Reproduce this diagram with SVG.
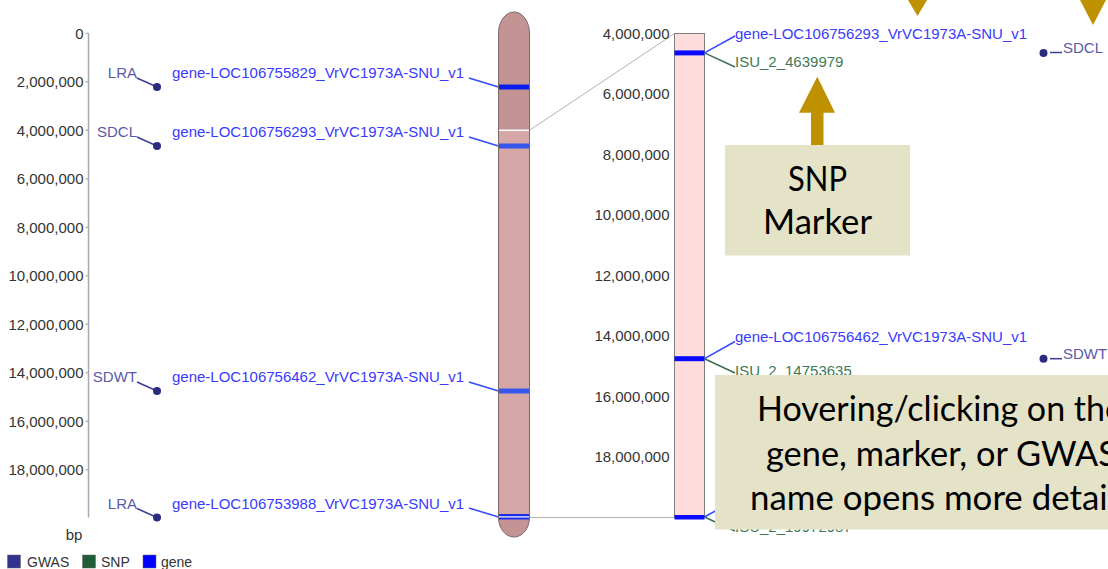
<svg xmlns="http://www.w3.org/2000/svg" width="1108" height="569" viewBox="0 0 1108 569">
<style>
.ax{font-family:"Liberation Sans",Arial,sans-serif;font-size:15px;fill:#333}
.gl{font-family:"Liberation Sans",Arial,sans-serif;font-size:15px;fill:#3a3aff}
.sl{font-family:"Liberation Sans",Arial,sans-serif;font-size:15px;fill:#3f7a58}
.wl{font-family:"Liberation Sans",Arial,sans-serif;font-size:15px;fill:#5a5aaa}
.lg{font-family:"Liberation Sans",Arial,sans-serif;font-size:14px;fill:#333}
.gline{stroke:#3348ff;stroke-width:1.5;fill:none}
.sline{stroke:#3a7050;stroke-width:1.5;fill:none}
.wline{stroke:#3d3d90;stroke-width:1.5;fill:none}
.dot{fill:#2c2c7e}
.co{font-family:Lato,"Open Sans",sans-serif;font-size:34px;fill:#000}
.box{fill:#e4e3c7}
.gold{fill:#bf9000}
</style>

<!-- left axis -->
<g id="left-axis">
<line x1="88.5" y1="33" x2="88.5" y2="517.5" stroke="#aaa" stroke-width="1.5"/>
<g stroke="#aaa" stroke-width="1.2">
<line x1="85.5" y1="33.3" x2="88.5" y2="33.3"/>
<line x1="85.5" y1="81.8" x2="88.5" y2="81.8"/>
<line x1="85.5" y1="130.3" x2="88.5" y2="130.3"/>
<line x1="85.5" y1="178.8" x2="88.5" y2="178.8"/>
<line x1="85.5" y1="227.3" x2="88.5" y2="227.3"/>
<line x1="85.5" y1="275.8" x2="88.5" y2="275.8"/>
<line x1="85.5" y1="324.3" x2="88.5" y2="324.3"/>
<line x1="85.5" y1="372.8" x2="88.5" y2="372.8"/>
<line x1="85.5" y1="421.3" x2="88.5" y2="421.3"/>
<line x1="85.5" y1="469.8" x2="88.5" y2="469.8"/>
</g>
<g class="ax" text-anchor="end">
<text x="83.5" y="38.7">0</text>
<text x="83.5" y="87.2">2,000,000</text>
<text x="83.5" y="135.7">4,000,000</text>
<text x="83.5" y="184.2">6,000,000</text>
<text x="83.5" y="232.7">8,000,000</text>
<text x="83.5" y="281.2">10,000,000</text>
<text x="83.5" y="329.7">12,000,000</text>
<text x="83.5" y="378.2">14,000,000</text>
<text x="83.5" y="426.7">16,000,000</text>
<text x="83.5" y="475.2">18,000,000</text>
</g>
<text class="ax" x="74" y="539.5" text-anchor="middle">bp</text>
</g>

<!-- connectors -->
<g id="connectors">
<line x1="529.5" y1="130.3" x2="674.5" y2="33.5" stroke="#b4b4b4" stroke-width="1"/>
<line x1="529.5" y1="517.5" x2="674.5" y2="517.5" stroke="#b4b4b4" stroke-width="1"/>
<polyline class="wline" points="137,78 157,87"/>
<polyline class="wline" points="137,137 157,146"/>
<polyline class="wline" points="137,382 157,391"/>
<polyline class="wline" points="137,508.5 157,517.5"/>
<polyline class="gline" points="469,78 498.5,87"/>
<polyline class="gline" points="469,137 498.5,146"/>
<polyline class="gline" points="469,382 498.5,391"/>
<polyline class="gline" points="469,508 498.5,517"/>
<polyline class="gline" points="704.5,52.9 735,36"/>
<polyline class="sline" points="704.5,52.9 735,67"/>
<polyline class="gline" points="704.5,358.7 735,341.5"/>
<polyline class="sline" points="704.5,358.7 735,373"/>
<polyline class="gline" points="704.5,517 735,500"/>
<polyline class="sline" points="704.5,517 735,531"/>
<line class="wline" x1="1050" y1="52.5" x2="1062" y2="52.5"/>
<line class="wline" x1="1050" y1="358.7" x2="1062" y2="358.7"/>
</g>

<!-- left chromosome -->
<g id="chromosome">
<path d="M498.5,33.3 A15.5,21.3 0 0 1 529.5,33.3 L529.5,517.5 A15.5,19.5 0 0 1 498.5,517.5 Z" fill="#c49393"/>
<rect x="498.5" y="130.3" width="31" height="387.2" fill="#d4a6a6"/>
<rect x="498.5" y="84.5" width="31" height="5" fill="#0a1ef2"/>
<rect x="498.5" y="143.5" width="31" height="5" fill="#3656ee"/>
<rect x="498.5" y="388.5" width="31" height="5" fill="#3656ee"/>
<rect x="498.5" y="514" width="31" height="5.5" fill="#1a2ef0"/>
<line x1="498.5" y1="130.3" x2="529.5" y2="130.3" stroke="#fff" stroke-width="1.5"/>
<line x1="498.5" y1="516.9" x2="529.5" y2="516.9" stroke="#fff" stroke-width="1.2"/>
<path d="M498.5,33.3 A15.5,21.3 0 0 1 529.5,33.3 L529.5,517.5 A15.5,19.5 0 0 1 498.5,517.5 Z" fill="none" stroke="#7d6868" stroke-width="1"/>
</g>

<!-- left GWAS markers -->
<g id="gwas-left">
<circle class="dot" cx="157" cy="87" r="4"/>
<circle class="dot" cx="157" cy="146" r="4"/>
<circle class="dot" cx="157" cy="391" r="4"/>
<circle class="dot" cx="157" cy="517.5" r="4"/>
<g class="wl" text-anchor="end">
<text x="137" y="78">LRA</text>
<text x="137" y="137">SDCL</text>
<text x="137" y="382">SDWT</text>
<text x="137" y="508.5">LRA</text>
</g>
</g>

<!-- left gene labels -->
<g id="genes-left" class="gl">
<text x="172" y="78">gene-LOC106755829_VrVC1973A-SNU_v1</text>
<text x="172" y="137">gene-LOC106756293_VrVC1973A-SNU_v1</text>
<text x="172" y="382">gene-LOC106756462_VrVC1973A-SNU_v1</text>
<text x="172" y="508.5">gene-LOC106753988_VrVC1973A-SNU_v1</text>
</g>

<!-- right zoom panel -->
<g id="zoom-panel">
<rect x="674.5" y="33.5" width="30" height="484" fill="#ffdcdc" stroke="#7f7f7f" stroke-width="1"/>
<rect x="674.5" y="50.4" width="30" height="5" fill="#0a0aff"/>
<rect x="674.5" y="356.2" width="30" height="5" fill="#0a0aff"/>
<rect x="674.5" y="515" width="30" height="4.5" fill="#0a0aff"/>
<g class="ax" text-anchor="end">
<text x="669.5" y="38.9">4,000,000</text>
<text x="669.5" y="99.4">6,000,000</text>
<text x="669.5" y="159.9">8,000,000</text>
<text x="669.5" y="220.4">10,000,000</text>
<text x="669.5" y="280.9">12,000,000</text>
<text x="669.5" y="341.4">14,000,000</text>
<text x="669.5" y="401.9">16,000,000</text>
<text x="669.5" y="462.4">18,000,000</text>
</g>
</g>

<g id="labels-right">
<text class="gl" x="735" y="38.5">gene-LOC106756293_VrVC1973A-SNU_v1</text>
<text class="sl" x="735" y="67">ISU_2_4639979</text>
<text class="gl" x="735" y="342">gene-LOC106756462_VrVC1973A-SNU_v1</text>
<text class="sl" x="735" y="376">ISU_2_14753635</text>
<text class="sl" x="735" y="532">ISU_2_19972987</text>
</g>

<g id="gwas-right">
<circle class="dot" cx="1043.5" cy="52.9" r="4"/>
<text class="wl" x="1063" y="53">SDCL</text>
<circle class="dot" cx="1043.5" cy="358.7" r="4"/>
<text class="wl" x="1063" y="358.7">SDWT</text>
</g>

<!-- legend -->
<g id="legend">
<rect x="7.5" y="555" width="13" height="13" fill="#33338f" stroke="#666" stroke-width="0.5"/>
<text class="lg" x="27" y="566.5">GWAS</text>
<rect x="82.5" y="555" width="13" height="13" fill="#1f5c38" stroke="#666" stroke-width="0.5"/>
<text class="lg" x="101" y="566.5">SNP</text>
<rect x="143" y="555" width="13" height="13" fill="#0000ff" stroke="#666" stroke-width="0.5"/>
<text class="lg" x="161" y="566.5">gene</text>
</g>

<!-- annotations -->
<g id="top-arrows">
<polygon class="gold" points="908,0 927,0 917.5,16"/>
<polygon class="gold" points="1080,0 1106,0 1093,25"/>
</g>

<g id="snp-callout">
<rect class="gold" x="811" y="111" width="12.5" height="35"/>
<polygon class="gold" points="799,112.7 835,112.7 817.3,76.7"/>
<rect class="box" x="725" y="145" width="185" height="110.5"/>
<text class="co" x="817.5" y="190.5" text-anchor="middle" textLength="59" lengthAdjust="spacingAndGlyphs">SNP</text>
<text class="co" x="817.5" y="233.5" text-anchor="middle" textLength="109" lengthAdjust="spacingAndGlyphs">Marker</text>
</g>

<g id="hover-callout">
<rect class="box" x="715" y="375" width="420" height="154.5"/>
<text class="co" x="757" y="421" textLength="366" lengthAdjust="spacingAndGlyphs">Hovering/clicking on the</text>
<text class="co" x="766" y="465.5" textLength="351" lengthAdjust="spacingAndGlyphs">gene, marker, or GWAS</text>
<text class="co" x="750" y="510" textLength="381" lengthAdjust="spacingAndGlyphs">name opens more details</text>
</g>
</svg>
